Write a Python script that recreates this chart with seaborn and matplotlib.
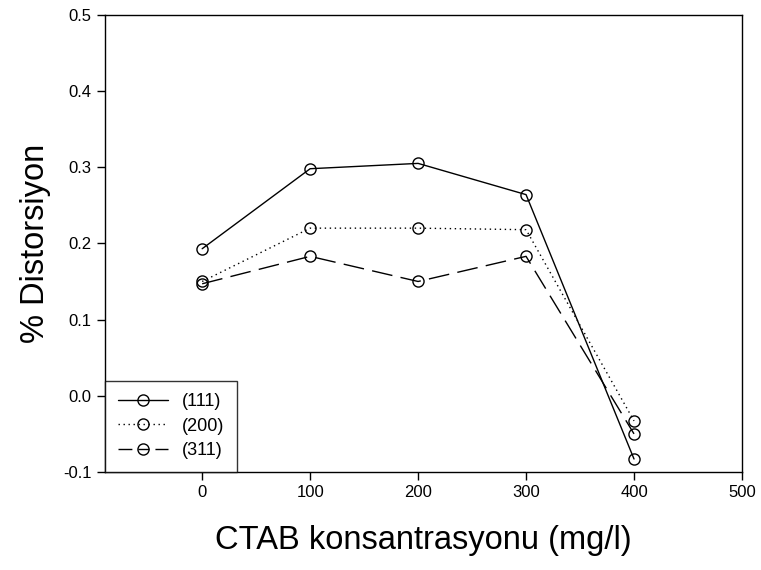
import matplotlib
matplotlib.use("Agg")
import matplotlib.pyplot as plt
import seaborn as sns
import pandas as pd

# CTAB concentration (mg/l)
concentration = [0, 100, 200, 300, 400]
# Lattice distortion (%) for each reflection plane
dist_111 = [0.193, 0.298, 0.305, 0.264, -0.083]
dist_200 = [0.150, 0.220, 0.220, 0.218, -0.033]
dist_311 = [0.147, 0.183, 0.150, 0.183, -0.050]

series = [
    ("(111)", dist_111, "-"),
    ("(200)", dist_200, (0, (1, 2.6))),
    ("(311)", dist_311, (0, (15, 6))),
]

sns.set_style("ticks")
plt.rcParams["font.family"] = ["Liberation Sans", "DejaVu Sans"]
for key in ["text.color", "axes.labelcolor", "xtick.color", "ytick.color",
            "axes.edgecolor"]:
    plt.rcParams[key] = "black"

fig = plt.figure(figsize=(7.61, 5.70), dpi=100)
ax = fig.add_axes([0.138, 0.172, 0.837, 0.802])

for name, vals, ls in series:
    df = pd.DataFrame({"x": concentration, "y": vals})
    sns.lineplot(data=df, x="x", y="y", ax=ax, color="black", linewidth=1.0,
                 linestyle=ls, marker="o", markersize=8, markerfacecolor="none",
                 markeredgecolor="black", markeredgewidth=1.0, label=name)

ax.set_xlim(-90, 500)
ax.set_ylim(-0.1, 0.5)
ax.set_xticks([0, 100, 200, 300, 400, 500])
ax.set_yticks([-0.1, 0.0, 0.1, 0.2, 0.3, 0.4, 0.5])
ax.set_yticklabels(["-0.1", "0.0", "0.1", "0.2", "0.3", "0.4", "0.5"])
ax.tick_params(direction="out", length=6, width=1, labelsize=12, color="black",
               labelcolor="black")
for s in ax.spines.values():
    s.set_visible(True)
    s.set_color("black")
    s.set_linewidth(1.0)

ax.set_xlabel("CTAB konsantrasyonu (mg/l)", fontsize=23.5, labelpad=18)
ax.set_ylabel("% Distorsiyon", fontsize=23.5, labelpad=9)

leg = ax.legend(loc="lower left", bbox_to_anchor=(0.0, 0.0), fontsize=13,
                frameon=True, fancybox=False, edgecolor="black",
                handlelength=2.8, borderpad=0.7, labelspacing=0.42,
                handletextpad=0.75, borderaxespad=0.0)
leg.get_frame().set_linewidth(1.0)
for t in leg.get_texts():
    t.set_color("black")
# (311) legend sample: dash, dash through the marker, dash
leg.get_lines()[2].set_linestyle((0, (10, 4.3, 8, 4.3, 10, 20)))

fig.savefig("out.png", dpi=100)
